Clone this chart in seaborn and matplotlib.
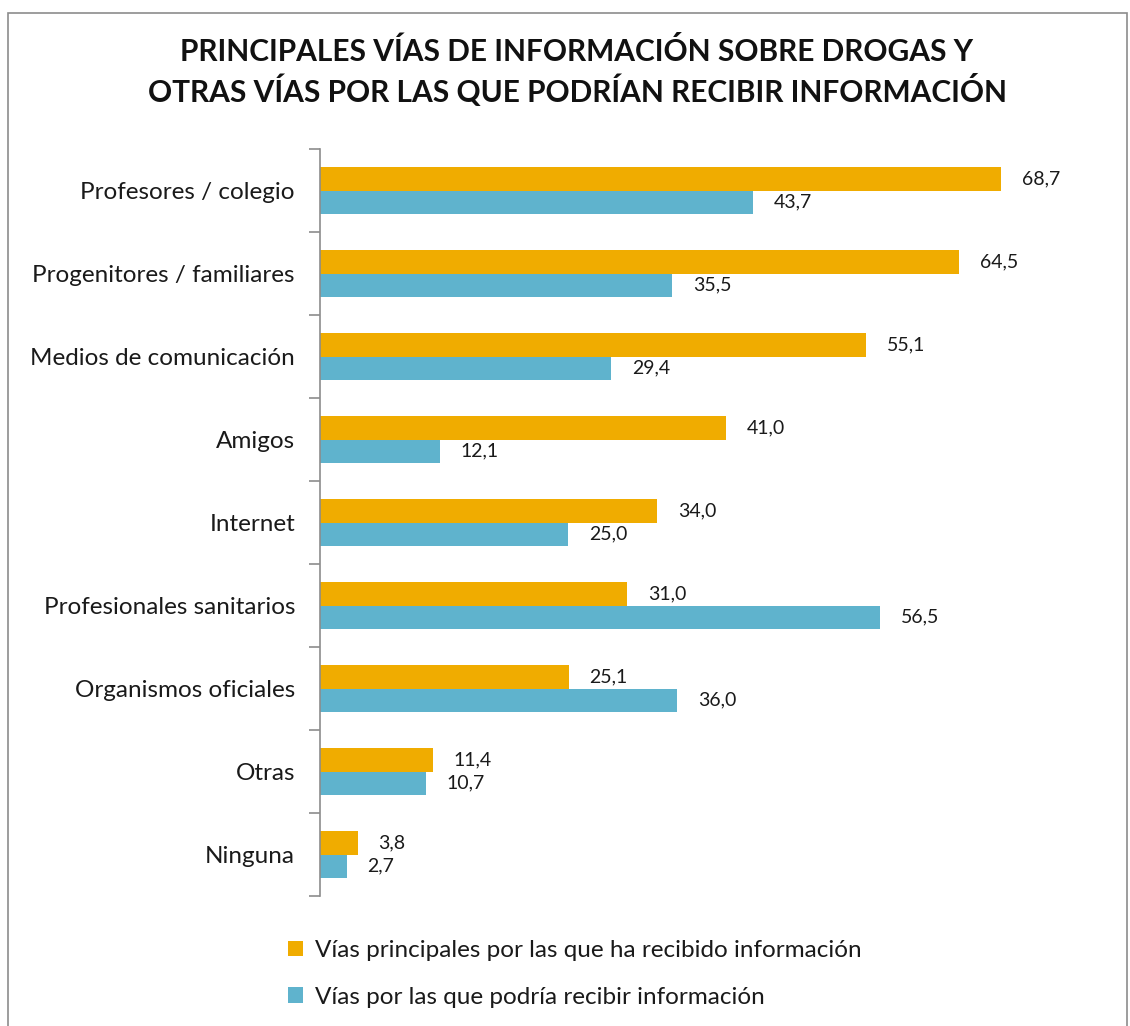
import matplotlib
matplotlib.use("Agg")
import matplotlib.pyplot as plt
import seaborn as sns
import pandas as pd
from matplotlib.patches import Rectangle
from matplotlib.ticker import FixedLocator

categories = ["Profesores / colegio", "Progenitores / familiares", "Medios de comunicación",
              "Amigos", "Internet", "Profesionales sanitarios", "Organismos oficiales",
              "Otras", "Ninguna"]
recibido = [68.7, 64.5, 55.1, 41.0, 34.0, 31.0, 25.1, 11.4, 3.8]
podria = [43.7, 35.5, 29.4, 12.1, 25.0, 56.5, 36.0, 10.7, 2.7]
series = ["Vías principales por las que ha recibido información",
          "Vías por las que podría recibir información"]
title = "PRINCIPALES VÍAS DE INFORMACIÓN SOBRE DROGAS Y\nOTRAS VÍAS POR LAS QUE PODRÍAN RECIBIR INFORMACIÓN"
colors = ["#F0AC00", "#5FB3CD"]

df = pd.DataFrame({
    "cat": categories * 2,
    "val": recibido + podria,
    "serie": [series[0]] * len(categories) + [series[1]] * len(categories),
})

sns.set_style("white")
plt.rcParams["font.family"] = ["Lato", "DejaVu Sans"]

fig = plt.figure(figsize=(11.3, 10.26), dpi=100)
ax = fig.add_axes([320 / 1130, 1 - 896 / 1026, 793 / 1130, 747 / 1026])

sns.barplot(data=df, y="cat", x="val", hue="serie", orient="h", palette=colors,
            width=0.57, gap=0, ax=ax, saturation=1, edgecolor="none", linewidth=0)

ax.set_xlim(0, 80)
ax.set_ylim(len(categories) - 0.5, -0.5)
ax.set_xlabel("")
ax.set_ylabel("")
ax.set_xticks([])

# ticks at category boundaries, labels at centers
ax.yaxis.set_major_locator(FixedLocator([i - 0.5 for i in range(len(categories) + 1)]))
ax.yaxis.set_major_formatter(plt.NullFormatter())
ax.yaxis.set_minor_locator(FixedLocator(list(range(len(categories)))))
ax.set_yticklabels(categories, minor=True)
ax.tick_params(axis="y", which="major", length=8, width=1.2, color="#8c8c8c", left=True)
ax.tick_params(axis="y", which="minor", length=0, pad=18, labelsize=17.5, labelcolor="#1a1a1a")

for s in ["top", "right", "bottom"]:
    ax.spines[s].set_visible(False)
ax.spines["left"].set_color("#8c8c8c")
ax.spines["left"].set_linewidth(1.2)

# value labels
for cont in ax.containers:
    labels = [f"{b.get_width():.1f}".replace(".", ",") for b in cont]
    ax.bar_label(cont, labels=labels, padding=15, fontsize=14, color="#1a1a1a")

# legend
handles, labs = ax.get_legend_handles_labels()
ax.legend(handles, labs, loc="upper left", bbox_to_anchor=(288 / 1130, 1 - 940 / 1026),
          bbox_transform=fig.transFigure, frameon=False, fontsize=17.5, borderpad=0,
          borderaxespad=0, handlelength=0.6, handleheight=0.6, handletextpad=0.5,
          labelspacing=1.05, labelcolor="#1a1a1a")

fig.text(577 / 1130, 1 - 72 / 1026, title, ha="center", va="center", fontsize=21.5,
         fontweight="bold", color="#111111", linespacing=1.3)

fig.patches.append(Rectangle((8 / 1130, -0.1), 1119 / 1130, 1.1 - 13 / 1026,
                             transform=fig.transFigure, fill=False,
                             edgecolor="#8c8c8c", linewidth=1.2, figure=fig))

fig.savefig("out.png", dpi=100, facecolor="white")
